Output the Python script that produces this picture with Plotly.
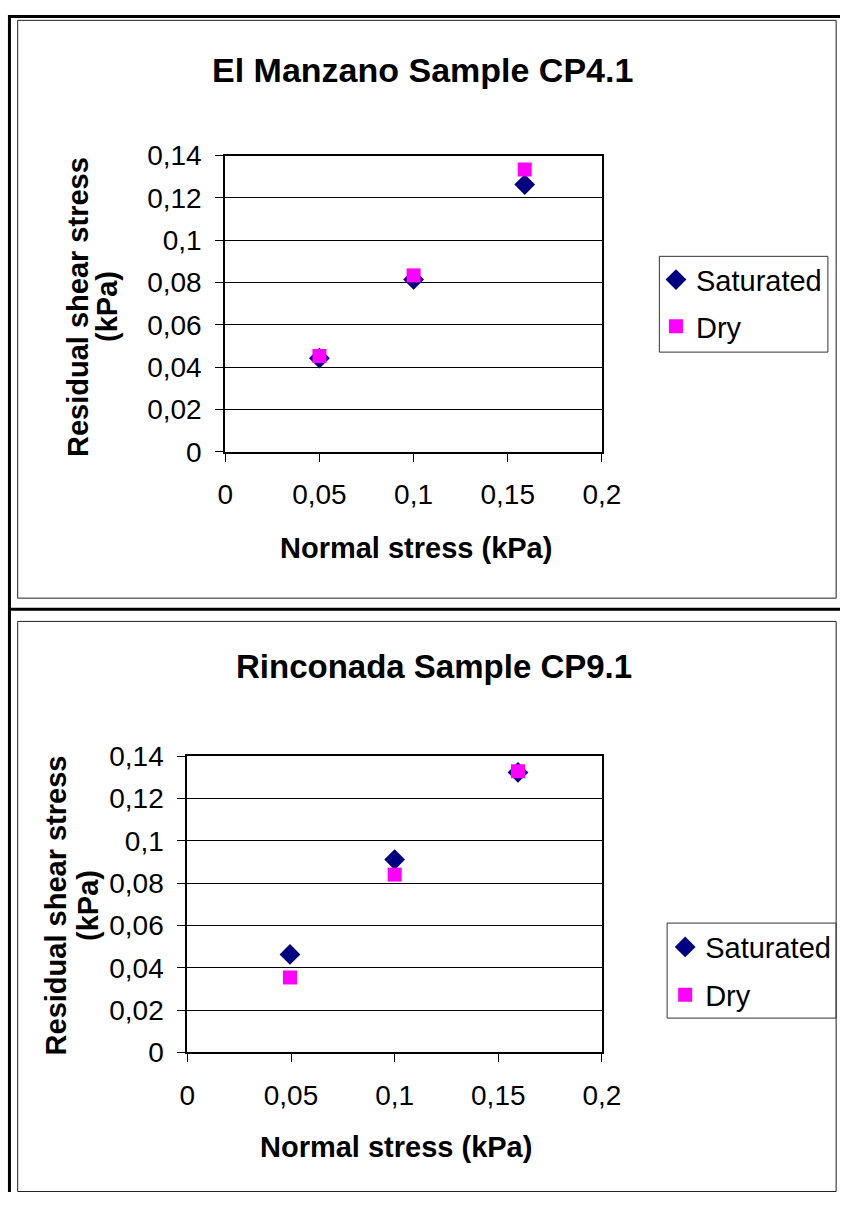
import plotly.graph_objects as go

W, H = 859, 1208
FONT = "Liberation Sans, Arial, sans-serif"

# ---------------- data ----------------
x_tickvals = [0, 0.05, 0.1, 0.15, 0.2]
x_ticktext = ["0", "0,05", "0,1", "0,15", "0,2"]
y_tickvals = [0, 0.02, 0.04, 0.06, 0.08, 0.1, 0.12, 0.14]
y_ticktext = ["0", "0,02", "0,04", "0,06", "0,08", "0,1", "0,12", "0,14"]

manzano_normal = [0.05, 0.1, 0.159]
manzano_saturated = [0.0443, 0.0815, 0.1263]
manzano_dry = [0.0453, 0.0834, 0.1334]

rinconada_normal = [0.0495, 0.1, 0.1595]
rinconada_saturated = [0.0463, 0.0911, 0.1323]
rinconada_dry = [0.0354, 0.0840, 0.1328]

titles = ["El Manzano Sample CP4.1", "Rinconada Sample CP9.1"]
x_title = "Normal stress (kPa)"
y_title_lines = ["Residual shear stress", "(kPa)"]
series_names = ["Saturated", "Dry"]

SAT_COLOR = "#000080"
DRY_COLOR = "#FF00FF"


def px(x):
    return x / W


def py(y):
    return 1 - y / H


fig = go.Figure()

fig.add_trace(go.Scatter(x=manzano_normal, y=manzano_saturated, mode="markers",
                         name=series_names[0], legendgroup="s1", legend="legend",
                         marker=dict(symbol="diamond", size=16, color=SAT_COLOR),
                         xaxis="x", yaxis="y"))
fig.add_trace(go.Scatter(x=manzano_normal, y=manzano_dry, mode="markers",
                         name=series_names[1], legendgroup="d1", legend="legend",
                         marker=dict(symbol="square", size=14, color=DRY_COLOR),
                         xaxis="x", yaxis="y"))
fig.add_trace(go.Scatter(x=rinconada_normal, y=rinconada_saturated, mode="markers",
                         name=series_names[0], legendgroup="s2", legend="legend2",
                         marker=dict(symbol="diamond", size=16, color=SAT_COLOR),
                         xaxis="x2", yaxis="y2"))
fig.add_trace(go.Scatter(x=rinconada_normal, y=rinconada_dry, mode="markers",
                         name=series_names[1], legendgroup="d2", legend="legend2",
                         marker=dict(symbol="square", size=14, color=DRY_COLOR),
                         xaxis="x2", yaxis="y2"))

tickfont = dict(family=FONT, size=28, color="black")

xax = dict(range=[0, 0.2], tickvals=x_tickvals, ticktext=x_ticktext,
           showgrid=False, zeroline=False, showline=True, mirror=True,
           linecolor="black", linewidth=2, ticks="outside", ticklen=8,
           tickcolor="black", tickwidth=1, tickfont=tickfont,
           ticklabelstandoff=9, fixedrange=True)
yax = dict(range=[0, 0.14], tickvals=y_tickvals, ticktext=y_ticktext,
           showgrid=True, gridcolor="black", gridwidth=1, zeroline=False,
           showline=True, mirror=True, linecolor="black", linewidth=2,
           ticks="outside", ticklen=8, tickcolor="black", tickwidth=1,
           tickfont=tickfont, ticklabelstandoff=8, fixedrange=True)

legfont = dict(family=FONT, size=29, color="black")

fig.update_layout(
    width=W, height=H, margin=dict(l=0, r=0, t=0, b=0),
    paper_bgcolor="white", plot_bgcolor="white",
    font=dict(family=FONT, color="black"),
    xaxis=dict(xax, domain=[px(224.3), px(613.2)], anchor="y"),
    yaxis=dict(yax, domain=[py(448.4), py(144.3)], anchor="x"),
    xaxis2=dict(xax, domain=[px(185.2), px(613.2)], anchor="y2"),
    yaxis2=dict(yax, domain=[py(1064.7), py(760.6)], anchor="x2"),
    legend=dict(x=px(669), y=py(245.5), xanchor="left", yanchor="top",
                bgcolor="rgba(0,0,0,0)", borderwidth=0, font=legfont,
                tracegroupgap=6, itemclick=False, itemdoubleclick=False),
    legend2=dict(x=px(678.5), y=py(930.5), xanchor="left", yanchor="top",
                 bgcolor="rgba(0,0,0,0)", borderwidth=0, font=legfont,
                 tracegroupgap=7, itemclick=False, itemdoubleclick=False),
    showlegend=True,
)

shapes = []
# outer frame lines (table borders)
shapes.append(dict(type="line", xref="paper", yref="paper", x0=0, x1=1,
                   y0=py(1.5), y1=py(1.5), line=dict(color="black", width=3)))
shapes.append(dict(type="line", xref="paper", yref="paper", x0=px(1.5), x1=px(1.5),
                   y0=0, y1=1, line=dict(color="black", width=3)))
shapes.append(dict(type="line", xref="paper", yref="paper", x0=px(1.5), x1=1,
                   y0=py(610), y1=py(610), line=dict(color="black", width=3)))
# chart area boxes
shapes.append(dict(type="rect", xref="paper", yref="paper", x0=px(10), x1=px(855),
                   y0=py(598.5), y1=py(5.5), line=dict(color="#222222", width=1)))
shapes.append(dict(type="rect", xref="paper", yref="paper", x0=px(10), x1=px(855),
                   y0=py(1207.5), y1=py(622.4), line=dict(color="#222222", width=1)))
# legend boxes
shapes.append(dict(type="rect", xref="paper", yref="paper", x0=px(672.5), x1=px(846.5),
                   y0=py(346), y1=py(247.7), line=dict(color="#333333", width=1)))
shapes.append(dict(type="rect", xref="paper", yref="paper", x0=px(680.5), x1=px(855),
                   y0=py(1029.5), y1=py(932), line=dict(color="#333333", width=1)))
fig.update_layout(shapes=shapes)


def text_ann(text, x, y, size, bold=True, angle=0):
    return dict(text=("<b>" + text + "</b>") if bold else text,
                x=px(x), y=py(y), xref="paper", yref="paper",
                showarrow=False, xanchor="center", yanchor="middle",
                textangle=angle, font=dict(family=FONT, size=size, color="black"))


ann = [
    text_ann(titles[0], 428.3, 56.5, 34),
    text_ann(titles[1], 440, 668.5, 33),
    text_ann(x_title, 420.8, 546.7, 29),
    text_ann(x_title, 400.2, 1162, 29),
    text_ann(y_title_lines[0], 73, 300, 29, angle=-90),
    text_ann(y_title_lines[1], 102.9, 299, 29, angle=-90),
    text_ann(y_title_lines[0], 49.4, 914, 29, angle=-90),
    text_ann(y_title_lines[1], 82, 914, 29, angle=-90),
]
fig.update_layout(annotations=ann)

fig.write_html("out.html")
